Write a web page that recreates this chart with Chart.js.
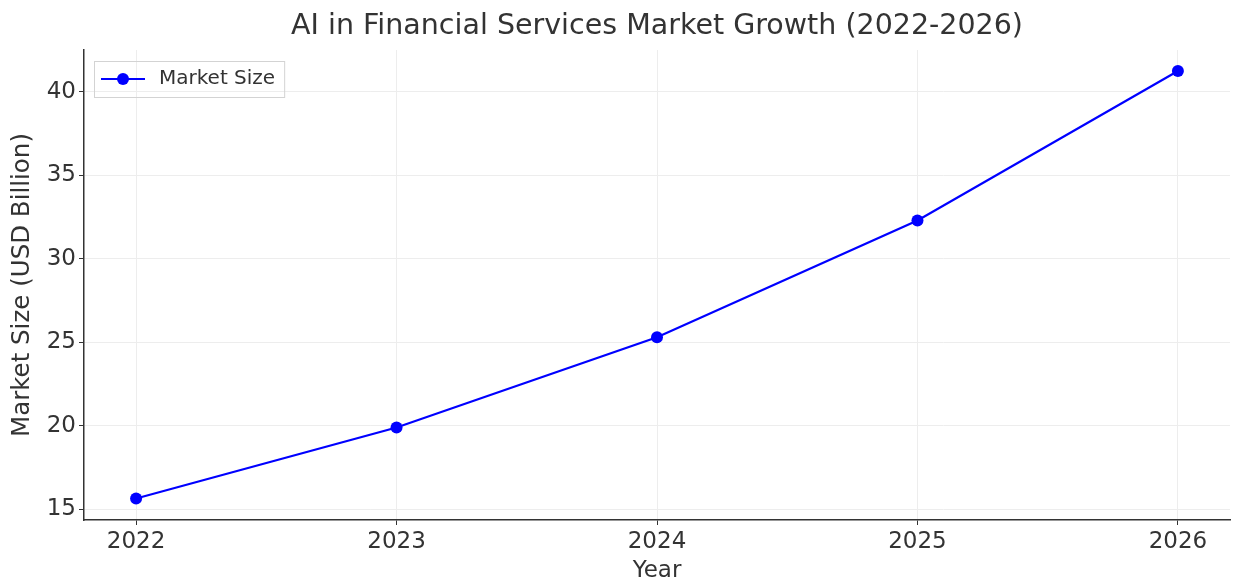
<!DOCTYPE html>
<html>
<head>
<meta charset="utf-8">
<script src="https://cdn.jsdelivr.net/npm/chart.js@4/dist/chart.umd.min.js"></script>
<style>
  html, body { margin: 0; padding: 0; background: #fff; }
  canvas { display: block; }
</style>
</head>
<body>
<canvas id="ai_chart" width="1236" height="583"></canvas>
<script>
// data
var years = [2022, 2023, 2024, 2025, 2026];
var yearLabels = ['2022', '2023', '2024', '2025', '2026'];
var marketSize = [15.65, 19.9, 25.3, 32.3, 41.25];
var yTicks = [15, 20, 25, 30, 35, 40];

var FONT = "'DejaVu Sans', sans-serif";
var TEXT = '#333333';
var BLUE = '#0000ff';
var LEGEND_SIZE = 20;
var MARK_W = 52;

// legend marker: line with a dot in the middle
var marker = document.createElement('canvas');
marker.width = 44; marker.height = 14;
(function () {
  var c = marker.getContext('2d');
  c.strokeStyle = BLUE; c.lineWidth = 2.2;
  c.beginPath(); c.moveTo(0, 7); c.lineTo(44, 7); c.stroke();
  c.fillStyle = BLUE;
  c.beginPath(); c.arc(22, 7, 6, 0, Math.PI * 2); c.fill();
})();

var points = years.map(function (y, i) { return { x: y, y: marketSize[i] }; });

// put the legend inside the plot (top left) and centre the title over the plot
var placeBlocks = {
  id: 'placeBlocks',
  afterLayout: function (chart) {
    var a = chart.chartArea;
    var lg = chart.legend;
    if (lg) {
      lg.left = a.left + 1; lg.right = a.right;
      lg.top = a.top + 7; lg.bottom = lg.top + lg.height;
    }
    var t = chart.titleBlock;
    if (t) { t.left = a.left; t.right = a.right; }
  },
  afterDraw: function (chart) {
    var a = chart.chartArea;
    var c = chart.ctx;
    c.save();
    c.font = LEGEND_SIZE + "px " + FONT;
    var tw = c.measureText(chart.data.datasets[0].label).width;
    c.strokeStyle = '#d3d3d3';
    c.lineWidth = 1;
    c.strokeRect(a.left + 10.5, a.top + 11.5, 2 + MARK_W + LEGEND_SIZE / 2 + tw + 10, 36);
    c.restore();
  }
};

var ctx = document.getElementById('ai_chart').getContext('2d');
var chart = new Chart(ctx, {
  type: 'line',
  data: {
    datasets: [{
      label: 'Market Size',
      data: points,
      borderColor: BLUE,
      backgroundColor: BLUE,
      borderWidth: 2.2,
      pointRadius: 6,
      pointBackgroundColor: BLUE,
      pointBorderColor: BLUE,
      pointBorderWidth: 0,
      tension: 0,
      fill: false
    }]
  },
  options: {
    responsive: false,
    animation: false,
    layout: { padding: { left: 0, right: 4, top: 0, bottom: 0 } },
    plugins: {
      title: {
        display: true,
        text: 'AI in Financial Services Market Growth (2022-2026)',
        color: TEXT,
        font: { family: FONT, size: 28.5, weight: 'normal', lineHeight: 1.2 },
        padding: { top: 9, bottom: 6.8 }
      },
      legend: {
        position: 'chartArea',
        align: 'start',
        labels: {
          usePointStyle: true,
          pointStyleWidth: MARK_W,
          color: TEXT,
          font: { family: FONT, size: LEGEND_SIZE },
          padding: 12,
          generateLabels: function (chart) {
            var ds = chart.data.datasets[0];
            return [{ text: ds.label, pointStyle: marker, fontColor: TEXT, datasetIndex: 0, lineWidth: 0 }];
          }
        }
      },
      tooltip: { enabled: false }
    },
    scales: {
      x: {
        type: 'linear',
        min: 2021.8,
        max: 2026.2,
        afterFit: function (s) { s.height = 63; },
        afterBuildTicks: function (s) {
          s.ticks = years.map(function (v) { return { value: v }; });
        },
        ticks: {
          color: TEXT,
          font: { family: FONT, size: 23 },
          padding: 3,
          maxRotation: 0,
          callback: function (v) { return yearLabels[years.indexOf(v)]; }
        },
        grid: { color: '#ededed', lineWidth: 1, tickColor: TEXT, tickLength: 5 },
        border: { color: TEXT, width: 1.5 },
        title: {
          display: true,
          text: 'Year',
          color: TEXT,
          font: { family: FONT, size: 23, lineHeight: 1.0 },
          padding: 0
        }
      },
      y: {
        type: 'linear',
        min: 14.36,
        max: 42.51,
        afterFit: function (s) { s.width = 84; },
        afterBuildTicks: function (s) {
          s.ticks = yTicks.map(function (v) { return { value: v }; });
        },
        ticks: {
          color: TEXT,
          font: { family: FONT, size: 23 },
          padding: 3
        },
        grid: { color: '#ededed', lineWidth: 1, tickColor: TEXT, tickLength: 5 },
        border: { color: TEXT, width: 1.5 },
        title: {
          display: true,
          text: 'Market Size (USD Billion)',
          color: TEXT,
          font: { family: FONT, size: 24.5, lineHeight: 1.2 },
          padding: { top: 8, bottom: 0 }
        }
      }
    }
  },
  plugins: [placeBlocks]
});
</script>
</body>
</html>
